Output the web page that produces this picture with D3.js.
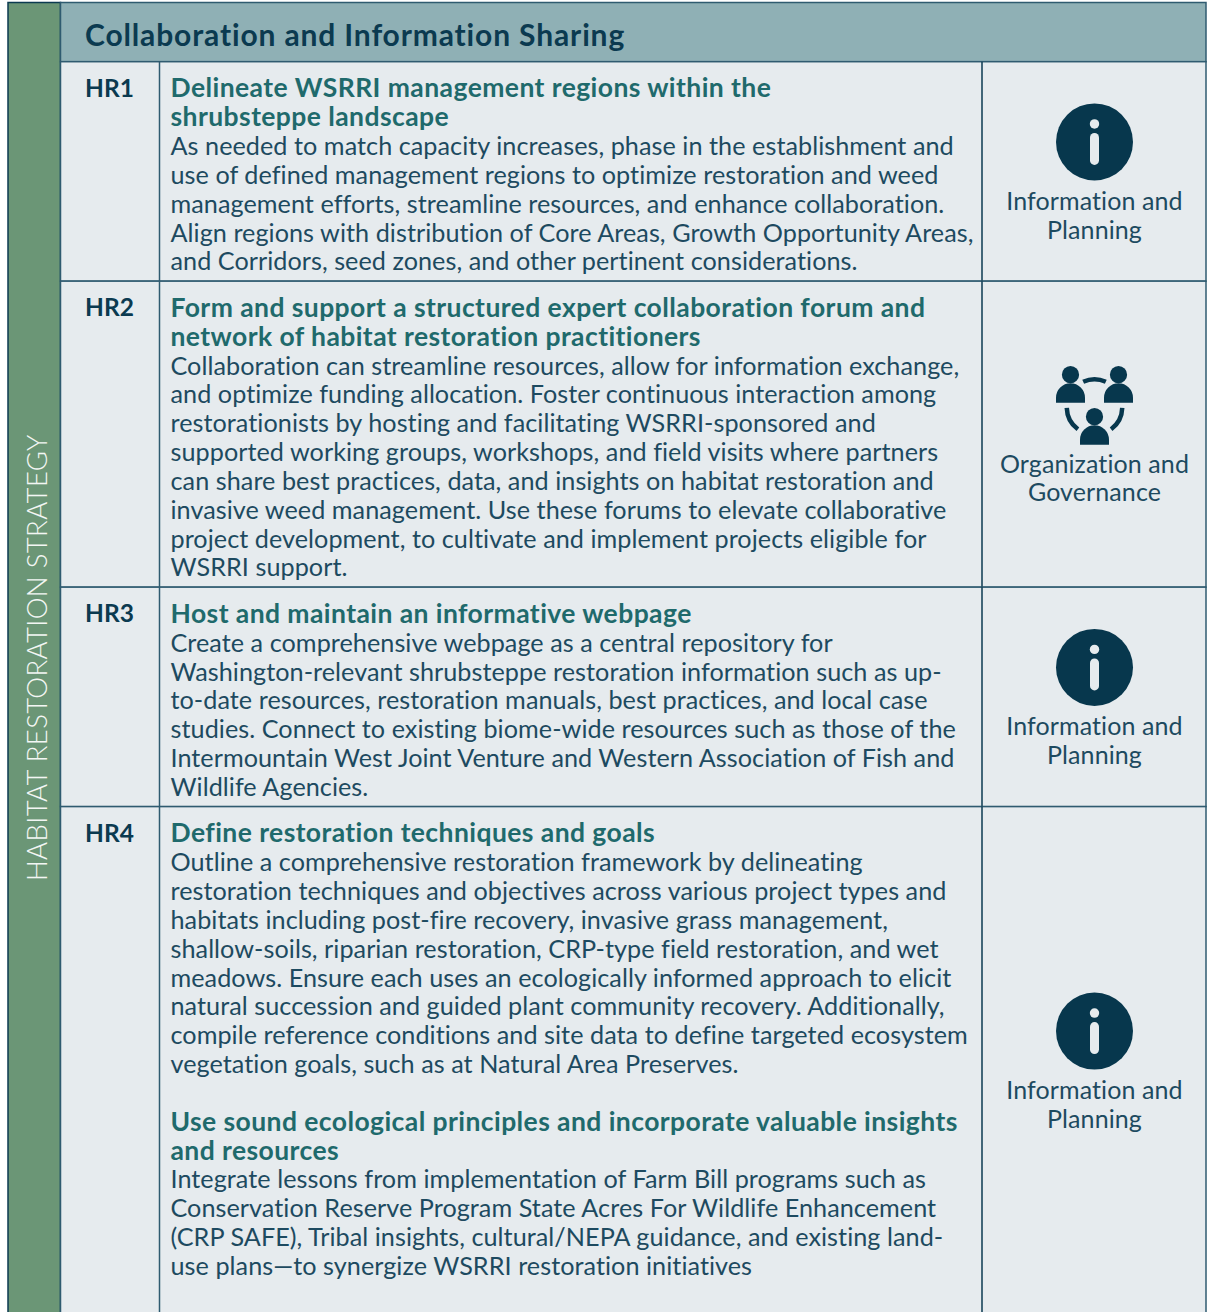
<!DOCTYPE html>
<meta charset="utf-8">
<style>
body { margin: 0; background: #fff; }
svg { display: block; }
text { font-family: Lato, "Noto Sans", sans-serif; font-variant-ligatures: none; }
.title { font-weight: 700; fill: #1f6a6c; font-size: 26.5px; letter-spacing: 0.42px; }
.body { fill: #1d4a60; font-size: 25.2px; letter-spacing: 0.05px; }
.code { font-weight: 700; fill: #0b3a50; font-size: 24.5px; }
.cat { fill: #1d4a60; font-size: 25px; letter-spacing: 0.1px; text-anchor: middle; }
</style>
<svg width="1210" height="1312"></svg>
<script src="https://d3js.org/d3.v7.min.js"></script>
<script>

var heading = "Collaboration and Information Sharing";
var sideLabel = "HABITAT RESTORATION STRATEGY";
var codes = ["HR1", "HR2", "HR3", "HR4"];
var categories = [
  ["Information and", "Planning"],
  ["Organization and", "Governance"],
  ["Information and", "Planning"],
  ["Information and", "Planning"]
];
var icons = ["info", "people", "info", "info"];

// t = bold title line, b = body line, "" = blank line
var hr1 = [
  ["t", "Delineate WSRRI management regions within the"],
  ["t", "shrubsteppe landscape"],
  ["b", "As needed to match capacity increases, phase in the establishment and"],
  ["b", "use of defined management regions to optimize restoration and weed"],
  ["b", "management efforts, streamline resources, and enhance collaboration."],
  ["b", "Align regions with distribution of Core Areas, Growth Opportunity Areas,"],
  ["b", "and Corridors, seed zones, and other pertinent considerations."]
];
var hr2 = [
  ["t", "Form and support a structured expert collaboration forum and"],
  ["t", "network of habitat restoration practitioners"],
  ["b", "Collaboration can streamline resources, allow for information exchange,"],
  ["b", "and optimize funding allocation. Foster continuous interaction among"],
  ["b", "restorationists by hosting and facilitating WSRRI-sponsored and"],
  ["b", "supported working groups, workshops, and field visits where partners"],
  ["b", "can share best practices, data, and insights on habitat restoration and"],
  ["b", "invasive weed management. Use these forums to elevate collaborative"],
  ["b", "project development, to cultivate and implement projects eligible for"],
  ["b", "WSRRI support."]
];
var hr3 = [
  ["t", "Host and maintain an informative webpage"],
  ["b", "Create a comprehensive webpage as a central repository for"],
  ["b", "Washington-relevant shrubsteppe restoration information such as up-"],
  ["b", "to-date resources, restoration manuals, best practices, and local case"],
  ["b", "studies. Connect to existing biome-wide resources such as those of the"],
  ["b", "Intermountain West Joint Venture and Western Association of Fish and"],
  ["b", "Wildlife Agencies."]
];
var hr4 = [
  ["t", "Define restoration techniques and goals"],
  ["b", "Outline a comprehensive restoration framework by delineating"],
  ["b", "restoration techniques and objectives across various project types and"],
  ["b", "habitats including post-fire recovery, invasive grass management,"],
  ["b", "shallow-soils, riparian restoration, CRP-type field restoration, and wet"],
  ["b", "meadows. Ensure each uses an ecologically informed approach to elicit"],
  ["b", "natural succession and guided plant community recovery. Additionally,"],
  ["b", "compile reference conditions and site data to define targeted ecosystem"],
  ["b", "vegetation goals, such as at Natural Area Preserves."],
  ["", ""],
  ["t", "Use sound ecological principles and incorporate valuable insights"],
  ["t", "and resources"],
  ["b", "Integrate lessons from implementation of Farm Bill programs such as"],
  ["b", "Conservation Reserve Program State Acres For Wildlife Enhancement"],
  ["b", "(CRP SAFE), Tribal insights, cultural/NEPA guidance, and existing land-"],
  ["b", "use plans\u2014to synergize WSRRI restoration initiatives"],
  ["", ""]
];
var rowLines = [hr1, hr2, hr3, hr4];

var svg = d3.select("svg");

var ink = "#0b3a50", rule = "#2f5b70";
var xSide = 8, xCode = 60.5, xText = 159.5, xIcon = 982, xEnd = 1206;
var yTop = 2.5, yHead = 61.7;

// one text line = one unit
var lineY = d3.scaleLinear().domain([0, 1]).range([0, 28.85]);
var pad = 17.5;

var rows = [];
var rowTop = yHead;
rowLines.forEach(function(lines, i) {
  var h = lineY(lines.length) + pad;
  rows.push({ i: i, y: rowTop, h: h, lines: lines });
  rowTop += h;
});

svg.append("rect").attr("x", xSide).attr("y", yTop).attr("width", xCode - xSide).attr("height", 1320)
    .attr("fill", "#6b9676").attr("stroke", ink).attr("stroke-width", 1.5);
svg.append("rect").attr("x", xCode).attr("y", yTop).attr("width", xEnd - xCode).attr("height", yHead - yTop)
    .attr("fill", "#8fb0b5").attr("stroke", rule).attr("stroke-width", 1.5);
svg.append("text")
    .attr("x", 85).attr("y", 46)
    .attr("fill", ink).attr("font-size", 30).attr("font-weight", 700).attr("letter-spacing", 0.86)
    .text(heading);

svg.append("text")
    .attr("transform", "translate(47,881) rotate(-90)")
    .attr("fill", "#f3f6f4").attr("font-size", 27.5).attr("font-weight", 300).attr("letter-spacing", 0.35)
    .text(sideLabel);

var row = svg.selectAll("g.row").data(rows).enter().append("g")
    .attr("class", "row")
    .attr("transform", function(d) { return "translate(0," + d.y + ")"; });

row.append("rect")
    .attr("x", xCode).attr("width", xEnd - xCode)
    .attr("height", function(d) { return d.h; })
    .attr("fill", "#e6ebee").attr("stroke", rule).attr("stroke-width", 1.5);
row.append("line")
    .attr("x1", xText).attr("x2", xText).attr("y2", function(d) { return d.h; })
    .attr("stroke", rule).attr("stroke-width", 1.5);
row.append("line")
    .attr("x1", xIcon).attr("x2", xIcon).attr("y2", function(d) { return d.h; })
    .attr("stroke", ink).attr("stroke-width", 1.5);

row.append("text").attr("class", "code")
    .attr("x", 85).attr("y", 35)
    .text(function(d) { return codes[d.i]; });

row.selectAll("text.line")
    .data(function(d) { return d.lines.filter(function(l) { return l[0]; }).map(function(l) { return { kind: l[0], text: l[1], n: d.lines.indexOf(l) }; }); })
  .enter().append("text")
    .attr("class", function(d) { return "line " + (d.kind == "t" ? "title" : "body"); })
    .attr("x", 170.5)
    .attr("y", function(d) { return 35.7 + lineY(d.n); })
    .text(function(d) { return d.text; });

var xMid = (xIcon + xEnd) / 2 + 0.5;
var arc = d3.arc();

function drawInfo(g) {
  g.append("circle").attr("r", 38.5).attr("fill", "#07374d");
  g.append("circle").attr("cy", -18).attr("r", 4.7).attr("fill", "#e6ebee");
  g.append("rect").attr("x", -4.5).attr("y", -9).attr("width", 9).attr("height", 32).attr("rx", 4.5)
      .attr("fill", "#e6ebee");
}

function person(g, px, py) {
  g.append("circle").attr("cx", px).attr("cy", py).attr("r", 8.6).attr("fill", "#07374d");
  g.append("path").attr("fill", "#07374d")
      .attr("d", "M" + (px - 14.5) + "," + (py + 28)
        + "v-5 a14.5,14.5 0 0 1 29,0 v5 z");
}

function drawPeople(g) {
  person(g, -24, -30);
  person(g, 24, -30);
  person(g, 0, 12);
  [[-0.42, 0.42], [1.6, 2.5], [-2.5, -1.6]].forEach(function(a) {
    g.append("path").attr("fill", "#07374d")
        .attr("transform", "translate(0,2.4)")
        .attr("d", arc({ innerRadius: 25.5, outerRadius: 30, startAngle: a[0], endAngle: a[1] }));
  });
}

var icon = row.append("g")
    .attr("transform", function(d) { return "translate(" + xMid + "," + (d.h / 2 - 29.5) + ")"; });
icon.each(function(d) {
  if (icons[d.i] == "info") drawInfo(d3.select(this));
  else drawPeople(d3.select(this));
});

row.selectAll("text.cat")
    .data(function(d) { return categories[d.i].map(function(t, j) { return { t: t, j: j, h: d.h }; }); })
  .enter().append("text")
    .attr("class", "cat")
    .attr("x", xMid)
    .attr("y", function(d) { return d.h / 2 + 38.5 + lineY(d.j); })
    .text(function(d) { return d.t; });

</script>
